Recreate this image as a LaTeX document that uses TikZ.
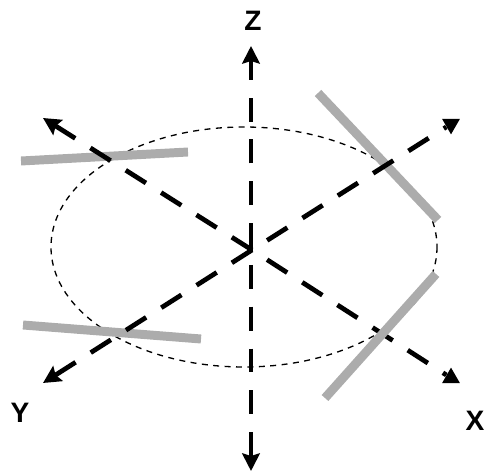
\documentclass[tikz,border=0pt]{standalone}
\usepackage{fontspec}
\setmainfont{Liberation Sans}
\usetikzlibrary{arrows.meta,positioning,shapes.geometric}
\definecolor{rodGray}{RGB}{172,172,172}

\begin{document}
\begin{tikzpicture}[x=0.02cm, y=-0.02cm,
    rod/.style={rodGray, line width=5.1pt},
    orbit/.style={black, line width=0.75pt, dash pattern=on 3.4pt off 3.1pt},
    axis/.style={black, line width=2.7pt, dash pattern=on 13.6pt off 10.2pt},
    arr/.style={axis, -{Stealth[length=10pt, width=10pt, inset=1.5pt]}},
    endtip/.style={regular polygon, regular polygon sides=3, fill=black, inner sep=0pt, minimum size=11.8pt},
    axlabel/.style={font=\fontsize{16}{16}\selectfont\bfseries, inner sep=0pt}
  ]
  \useasboundingbox (0,0) rectangle (486,472);

  \coordinate (orig) at (252,250);
  \coordinate (zmid) at (251,251);
  \coordinate (zstart) at (251,247);
  \coordinate (ztop) at (251,46);
  \coordinate (zbot) at (251,471);
  \coordinate (yend) at (43,383);
  \coordinate (yopp) at (43,118);
  \node[endtip] (xend) at (451,378) {};
  \node[endtip, rotate=180] (xopp) at (451,124) {};

  \draw[orbit] (244,247) ellipse [x radius=193, y radius=120];

  % rods
  \draw[rod] (21,161) coordinate (r1a) -- (188,152) coordinate (r1b);
  \draw[rod] (23,325) coordinate (r2a) -- (201,339) coordinate (r2b);
  \draw[rod] (318,93) coordinate (r3a) -- (438,220) coordinate (r3b);

  % axes
  \draw[axis, solid] (zmid) -- (zstart);
  \draw[arr] (zstart) -- (ztop);
  \draw[arr, dash phase=15.9pt] (zmid) -- (zbot);
  \draw[arr] (orig) -- (yend);
  \draw[arr] (orig) -- (yopp);
  \draw[axis, dash phase=13.6pt] (orig) -- (xend);
  \draw[axis, dash phase=13.6pt] (orig) -- (xopp);

  % this rod lies over the x axis
  \draw[rod] (436,274) coordinate (r4a) -- (325,398) coordinate (r4b);

  \node[axlabel] (zlab) at (253,21) {Z};
  \node[axlabel] (ylab) at (20,413) {Y};
  \node[axlabel] (xlab) at (475,421) {X};
\end{tikzpicture}
\end{document}
